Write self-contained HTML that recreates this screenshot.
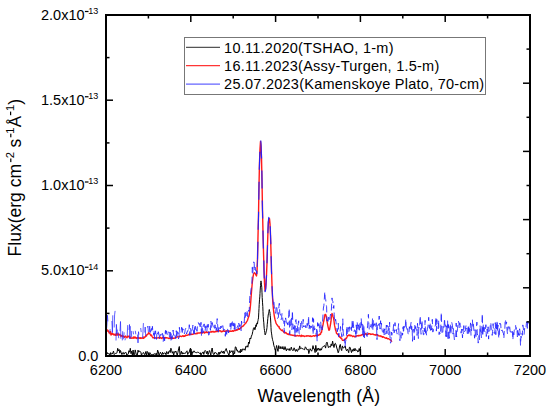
<!DOCTYPE html>
<html><head><meta charset="utf-8"><style>
html,body{margin:0;padding:0;background:#fff;width:550px;height:411px;overflow:hidden;}
svg{display:block;font-family:"Liberation Sans",sans-serif;}
</style></head><body>
<svg width="550" height="411" viewBox="0 0 550 411">
<rect width="550" height="411" fill="#fff"/>
<g fill="none" stroke-linejoin="round">
<polyline points="106.5,354.0 107.2,352.5 107.9,354.0 108.6,353.7 109.3,353.6 110.0,355.6 110.7,352.6 111.4,354.1 112.1,354.1 112.8,352.9 113.5,351.1 114.2,354.6 114.9,353.8 115.6,353.4 116.3,353.3 117.0,352.8 117.7,348.3 118.4,351.0 119.1,349.5 119.8,353.2 120.5,350.5 121.2,352.6 121.9,354.6 122.6,352.8 123.3,352.4 124.0,354.3 124.7,352.8 125.4,352.5 126.1,352.5 126.8,355.6 127.5,354.5 128.2,354.2 128.9,350.7 129.6,352.2 130.3,348.3 131.0,353.7 131.7,351.1 132.4,355.6 133.1,350.0 133.8,355.6 134.5,354.8 135.2,349.9 135.9,352.8 136.6,355.6 137.3,355.4 138.0,350.1 138.7,352.2 139.4,351.0 140.1,351.3 140.8,352.0 141.5,355.6 142.2,353.5 142.9,352.8 143.6,352.6 144.3,354.4 145.0,354.4 145.7,351.6 146.4,355.6 147.1,351.3 147.8,352.7 148.5,354.0 149.2,355.6 149.9,352.6 150.6,353.7 151.3,355.4 152.0,354.2 152.7,355.0 153.4,354.9 154.1,353.6 154.8,354.2 155.5,354.6 156.2,353.1 156.9,355.6 157.6,350.1 158.3,351.8 159.0,355.4 159.7,353.8 160.4,352.2 161.1,353.7 161.8,354.8 162.5,352.3 163.2,354.3 163.9,353.0 164.6,353.0 165.3,353.0 166.0,354.8 166.7,351.5 167.4,352.6 168.1,354.1 168.8,351.3 169.5,350.7 170.2,352.6 170.9,348.2 171.6,350.5 172.3,353.2 173.0,351.6 173.7,355.6 174.4,351.6 175.1,352.4 175.8,351.0 176.5,352.5 177.2,355.4 177.9,352.5 178.6,348.9 179.3,346.5 180.0,354.8 180.7,353.3 181.4,351.2 182.1,354.2 182.8,352.5 183.5,354.0 184.2,353.2 184.9,353.4 185.6,353.2 186.3,351.7 187.0,350.8 187.7,354.5 188.4,352.8 189.1,352.8 189.8,349.5 190.5,348.1 191.2,350.9 191.9,355.1 192.6,351.8 193.3,352.4 194.0,350.8 194.7,352.2 195.4,352.4 196.1,352.6 196.8,352.8 197.5,352.0 198.2,352.1 198.9,352.9 199.6,353.4 200.3,352.7 201.0,355.5 201.7,353.2 202.4,353.1 203.1,351.9 203.8,354.4 204.5,351.3 205.2,350.4 205.9,351.4 206.6,353.7 207.3,351.1 208.0,354.7 208.7,352.8 209.4,350.5 210.1,352.4 210.8,355.3 211.5,349.6 212.2,348.0 212.9,352.9 213.6,354.6 214.3,354.2 215.0,352.2 215.7,352.9 216.4,353.1 217.1,354.4 217.8,355.6 218.5,352.4 219.2,354.5 219.9,352.0 220.6,353.4 221.3,351.1 222.0,351.3 222.7,353.1 223.4,351.1 224.1,353.7 224.8,351.3 225.5,350.1 226.2,348.5 226.9,351.0 227.6,352.5 228.3,353.9 229.0,355.6 229.7,350.4 230.4,352.6 231.1,351.9 231.8,350.7 232.5,352.5 233.2,350.7 233.9,351.8 234.6,353.7 235.3,346.9 236.0,347.1 236.7,350.5 237.4,350.0 238.1,352.3 238.8,351.9 239.5,350.8 240.2,353.0 240.9,349.0 241.6,351.8 242.3,350.2 243.0,348.7 243.7,349.7 244.4,349.0 245.1,350.3 245.8,346.4 246.5,347.2 247.2,345.7 247.9,347.2 248.6,342.0 249.3,343.5 250.0,338.0 250.7,339.0 251.4,336.1 252.1,334.7 252.8,331.4 253.5,328.2 254.2,327.4 254.9,329.8 255.6,327.0 256.0,324.8 256.2,326.5 256.5,324.2 256.8,323.8 257.0,322.9 257.2,324.2 257.5,323.7 257.8,321.1 258.0,320.6 258.2,319.4 258.5,317.9 258.8,312.2 259.0,308.5 259.2,304.5 259.5,299.8 259.8,296.9 260.0,293.4 260.2,290.1 260.5,285.6 260.8,282.7 261.0,280.9 261.0,281.4 261.2,282.3 261.5,284.8 261.8,287.7 262.0,292.8 262.2,297.5 262.5,302.2 262.8,306.5 263.0,311.4 263.2,316.4 263.5,319.9 263.8,322.8 264.0,326.0 264.2,328.4 264.5,330.6 264.8,332.2 265.0,334.6 265.2,335.0 265.5,334.5 265.8,333.3 266.0,332.7 266.2,331.8 266.5,330.8 266.8,328.9 267.0,327.6 267.2,324.8 267.5,321.9 267.8,318.6 268.0,317.0 268.2,315.0 268.5,313.8 268.8,312.2 269.0,311.2 269.2,310.0 269.3,309.5 269.5,311.3 269.8,311.7 270.0,313.3 270.2,315.4 270.5,317.9 270.8,323.1 271.0,327.5 271.2,331.1 271.5,333.1 271.8,335.1 272.0,337.0 272.2,338.0 272.5,339.3 272.8,340.8 273.1,341.4 273.8,345.3 274.5,347.5 275.2,350.1 275.9,348.9 276.6,345.5 277.3,348.9 278.0,351.4 278.7,345.6 279.4,347.5 280.1,348.9 280.8,346.5 281.5,347.9 282.2,349.0 282.9,346.5 283.6,349.4 284.3,349.6 285.0,346.6 285.7,349.0 286.4,350.9 287.1,348.6 287.8,349.7 288.5,350.1 289.2,348.5 289.9,350.7 290.6,349.6 291.3,347.1 292.0,349.9 292.7,350.5 293.4,350.4 294.1,347.8 294.8,349.8 295.5,351.4 296.2,349.3 296.9,351.1 297.6,351.3 298.3,348.8 299.0,349.7 299.7,345.9 300.4,348.7 301.1,348.5 301.8,347.9 302.5,348.9 303.2,348.8 303.9,349.6 304.6,349.7 305.3,346.8 306.0,347.7 306.7,349.5 307.4,349.7 308.1,349.0 308.8,353.6 309.5,350.8 310.2,348.7 310.9,350.1 311.6,351.2 312.3,349.4 313.0,345.6 313.7,348.9 314.4,348.8 315.1,352.6 315.8,345.4 316.5,351.5 317.2,348.4 317.9,350.3 318.6,348.1 319.3,348.9 320.0,350.6 320.7,348.7 321.4,350.1 322.1,347.7 322.8,346.7 323.5,346.6 324.2,345.6 324.9,345.9 325.6,348.1 326.3,343.3 327.0,342.1 327.7,344.8 328.4,347.6 329.1,346.4 329.8,347.0 330.5,347.1 331.2,343.9 331.9,345.8 332.6,341.1 333.3,345.0 334.0,347.5 334.7,343.9 335.4,343.3 336.1,345.0 336.8,348.0 337.5,350.0 338.2,352.8 338.9,350.9 339.6,345.8 340.3,344.4 341.0,348.9 341.7,350.6 342.4,345.9 343.1,347.9 343.8,347.9 344.5,347.2 345.2,345.9 345.9,349.3 346.6,350.9 347.3,349.2 348.0,350.5 348.7,352.7 349.4,347.3 350.1,347.3 350.8,350.2 351.5,352.6 352.2,349.6 352.9,351.3 353.6,348.8 354.3,351.0 355.0,348.3 355.7,350.6 356.4,350.2 357.1,350.2 357.8,352.0 358.5,351.5 359.2,348.5 359.9,351.2 360.6,346.6" stroke="#000" stroke-width="1.0"/>
<polyline points="106.0,329.0 106.5,331.0 107.0,331.3 107.5,330.0 108.0,330.7 108.5,331.0 109.0,332.7 109.5,332.6 110.0,333.8 110.5,331.4 111.0,335.0 111.5,333.5 112.0,334.4 112.5,333.8 113.0,333.7 113.5,334.6 114.0,335.1 114.5,334.3 115.0,334.4 115.5,335.3 116.0,334.0 116.5,333.5 117.0,335.3 117.5,334.4 118.0,333.5 118.5,334.5 119.0,334.9 119.5,334.4 120.0,334.3 120.5,335.6 121.0,336.4 121.5,335.6 122.0,335.4 122.5,336.4 123.0,336.7 123.5,336.1 124.0,336.8 124.5,337.3 125.0,336.5 125.5,336.1 126.0,337.1 126.5,337.1 127.0,337.8 127.5,336.2 128.0,336.7 128.5,336.6 129.0,336.1 129.5,337.4 130.0,337.8 130.5,337.0 131.0,338.4 131.5,338.1 132.0,338.0 132.5,337.9 133.0,338.3 133.5,336.9 134.0,338.1 134.5,338.1 135.0,336.8 135.5,338.1 136.0,337.7 136.5,338.4 137.0,337.7 137.5,337.9 138.0,338.2 138.5,337.5 139.0,338.3 139.5,337.9 140.0,338.3 140.5,337.7 141.0,338.5 141.5,338.2 142.0,337.8 142.5,338.1 143.0,338.3 143.5,338.4 144.0,336.8 144.5,337.7 145.0,337.1 145.5,336.4 146.0,335.6 146.5,336.0 147.0,334.4 147.5,334.5 148.0,334.2 148.5,332.7 149.0,333.2 149.5,333.2 150.0,334.1 150.5,335.0 151.0,335.7 151.5,335.1 152.0,336.2 152.5,337.2 153.0,337.9 153.5,337.6 154.0,337.4 154.5,337.9 155.0,337.9 155.5,337.9 156.0,337.7 156.5,338.1 157.0,338.1 157.5,337.9 158.0,337.9 158.5,337.5 159.0,337.7 159.5,338.3 160.0,337.8 160.5,337.3 161.0,338.3 161.5,338.0 162.0,338.5 162.5,337.7 163.0,337.6 163.5,337.2 164.0,338.2 164.5,338.6 165.0,337.4 165.5,337.6 166.0,338.0 166.5,337.6 167.0,337.9 167.5,337.9 168.0,338.1 168.5,338.5 169.0,338.2 169.5,338.5 170.0,338.1 170.5,338.3 171.0,337.4 171.5,337.6 172.0,338.4 172.5,337.9 173.0,338.2 173.5,338.1 174.0,338.3 174.5,338.1 175.0,338.0 175.5,337.6 176.0,337.3 176.5,337.1 177.0,337.1 177.5,336.8 178.0,336.9 178.5,336.9 179.0,336.9 179.5,336.6 180.0,335.9 180.5,336.4 181.0,336.4 181.5,336.6 182.0,336.3 182.5,335.8 183.0,335.6 183.5,336.5 184.0,335.9 184.5,336.2 185.0,336.2 185.5,335.1 186.0,335.5 186.5,335.4 187.0,335.3 187.5,335.2 188.0,335.0 188.5,334.9 189.0,334.3 189.5,334.6 190.0,334.3 190.5,334.5 191.0,334.2 191.5,334.5 192.0,334.5 192.5,334.2 193.0,334.2 193.5,334.0 194.0,333.7 194.5,333.7 195.0,333.5 195.5,333.8 196.0,333.6 196.5,333.7 197.0,332.9 197.5,333.6 198.0,333.0 198.5,332.9 199.0,333.1 199.5,332.9 200.0,333.1 200.5,332.7 201.0,332.5 201.5,332.5 202.0,333.2 202.5,332.7 203.0,332.3 203.5,332.6 204.0,332.0 204.5,333.1 205.0,331.9 205.5,332.6 206.0,332.5 206.5,331.8 207.0,332.4 207.5,332.6 208.0,332.3 208.5,332.2 209.0,332.4 209.5,332.1 210.0,332.1 210.5,331.9 211.0,332.1 211.5,331.5 212.0,332.1 212.5,331.6 213.0,331.3 213.5,331.8 214.0,332.2 214.5,331.9 215.0,331.4 215.5,331.8 216.0,331.4 216.5,331.4 217.0,331.5 217.5,330.6 218.0,331.5 218.5,331.0 219.0,331.1 219.5,330.8 220.0,330.8 220.5,330.9 221.0,331.6 221.5,331.8 222.0,331.2 222.5,331.6 223.0,331.1 223.5,330.5 224.0,331.2 224.5,331.3 225.0,331.0 225.5,331.3 226.0,331.3 226.5,330.8 227.0,330.6 227.5,331.0 228.0,331.0 228.5,330.9 229.0,331.4 229.5,331.6 230.0,330.9 230.5,331.2 231.0,331.3 231.5,331.1 232.0,331.2 232.5,330.6 233.0,330.9 233.5,331.3 234.0,330.8 234.5,330.2 235.0,330.5 235.5,330.6 236.0,330.2 236.5,329.7 237.0,330.3 237.5,329.2 238.0,329.6 238.5,329.2 239.0,328.6 239.5,329.2 240.0,328.6 240.5,327.8 241.0,328.1 241.5,327.3 242.0,326.4 242.5,326.3 243.0,326.2 243.5,325.8 244.0,325.0 244.5,324.4 245.0,324.0 245.5,323.1 246.0,323.0 246.5,321.9 247.0,321.2 247.5,320.3 248.0,318.6 248.5,317.3 249.0,316.1 249.5,313.2 250.0,309.9 250.5,305.0 251.0,298.2 251.5,291.8 252.0,285.9 252.5,280.8 253.0,277.0 253.5,274.3 254.0,273.2 254.5,272.7 255.0,273.2 255.5,274.0 256.0,275.2 256.5,276.0 257.0,271.4 257.5,258.9 258.0,236.3 258.5,215.8 259.0,185.1 259.5,163.1 260.0,148.8 260.5,141.5 261.0,146.1 261.5,157.3 262.0,181.2 262.5,209.9 263.0,232.2 263.5,251.8 264.0,269.4 264.5,282.9 265.0,290.6 265.5,289.0 266.0,284.7 266.5,275.0 267.0,262.9 267.5,245.1 268.0,230.3 268.5,222.0 269.0,218.7 269.5,218.6 270.0,223.7 270.5,235.0 271.0,251.9 271.5,270.0 272.0,285.3 272.5,296.9 273.0,304.7 273.5,309.9 274.0,313.9 274.5,317.1 275.0,319.4 275.5,321.2 276.0,323.2 276.5,324.0 277.0,324.8 277.5,325.3 278.0,326.1 278.5,326.7 279.0,326.5 279.5,328.5 280.0,328.9 280.5,329.1 281.0,330.0 281.5,330.3 282.0,330.6 282.5,330.0 283.0,331.1 283.5,331.7 284.0,332.5 284.5,332.9 285.0,333.0 285.5,332.4 286.0,332.4 286.5,333.6 287.0,333.7 287.5,334.2 288.0,334.0 288.5,334.4 289.0,333.9 289.5,334.7 290.0,334.5 290.5,334.9 291.0,335.1 291.5,334.9 292.0,335.2 292.5,335.2 293.0,335.5 293.5,335.5 294.0,335.2 294.5,335.3 295.0,336.1 295.5,335.6 296.0,336.0 296.5,335.8 297.0,335.5 297.5,335.5 298.0,335.9 298.5,335.9 299.0,336.1 299.5,335.4 300.0,335.7 300.5,335.9 301.0,336.5 301.5,335.1 302.0,336.1 302.5,335.8 303.0,336.1 303.5,335.8 304.0,336.1 304.5,336.5 305.0,336.1 305.5,336.1 306.0,336.1 306.5,335.7 307.0,336.2 307.5,335.9 308.0,335.7 308.5,336.0 309.0,335.9 309.5,336.3 310.0,336.0 310.5,335.8 311.0,336.5 311.5,336.3 312.0,336.4 312.5,336.2 313.0,335.9 313.5,335.8 314.0,335.8 314.5,336.2 315.0,335.9 315.5,335.3 316.0,335.7 316.5,335.2 317.0,335.7 317.5,335.1 318.0,335.1 318.5,335.4 319.0,335.1 319.5,334.2 320.0,334.5 320.5,334.4 321.0,332.5 321.5,332.4 322.0,329.5 322.5,327.2 323.0,324.8 323.5,322.0 324.0,320.0 324.5,316.8 325.0,314.4 325.5,314.4 326.0,315.4 326.5,317.9 327.0,321.3 327.5,323.8 328.0,326.6 328.5,328.7 329.0,330.2 329.5,330.0 330.0,327.2 330.5,324.3 331.0,321.2 331.5,316.3 332.0,313.5 332.5,314.4 333.0,316.4 333.5,318.1 334.0,321.0 334.5,325.2 335.0,327.3 335.5,329.9 336.0,331.0 336.5,333.3 337.0,333.6 337.5,334.2 338.0,334.7 338.5,334.5 339.0,336.2 339.5,337.1 340.0,336.8 340.5,337.7 341.0,338.3 341.5,338.0 342.0,339.5 342.5,340.3 343.0,340.3 343.5,340.4 344.0,340.5 344.5,339.4 345.0,339.5 345.5,339.3 346.0,338.1 346.5,338.3 347.0,337.1 347.5,335.8 348.0,335.9 348.5,335.1 349.0,335.4 349.5,334.9 350.0,335.8 350.5,335.2 351.0,335.7 351.5,335.5 352.0,335.8 352.5,336.5 353.0,336.3 353.5,336.2 354.0,336.0 354.5,336.9 355.0,336.8 355.5,336.4 356.0,336.5 356.5,335.9 357.0,335.8 357.5,335.7 358.0,336.0 358.5,335.8 359.0,335.3 359.5,335.7 360.0,335.6 360.5,335.3 361.0,335.5 361.5,334.9 362.0,334.8 362.5,334.9 363.0,334.6 363.5,334.8 364.0,334.0 364.5,334.9 365.0,334.0 365.5,334.1 366.0,333.6 366.5,334.3 367.0,334.5 367.5,334.4 368.0,334.3 368.5,333.5 369.0,333.7 369.5,333.9 370.0,333.7 370.5,334.5 371.0,334.2 371.5,334.2 372.0,334.4 372.5,334.0 373.0,334.1 373.5,334.2 374.0,334.7 374.5,334.8 375.0,334.9 375.5,335.2 376.0,334.4 376.5,334.8 377.0,335.2 377.5,334.7 378.0,335.1 378.5,335.8 379.0,335.9 379.5,336.0 380.0,335.8 380.5,335.9 381.0,336.5 381.5,336.2 382.0,336.6 382.5,337.2 383.0,336.8 383.5,336.9 384.0,337.3 384.5,337.7 385.0,337.9 385.5,338.0 386.0,338.3 386.5,337.8 387.0,338.2 387.5,338.8 388.0,338.6 388.5,338.7 389.0,339.0 389.5,339.3 390.0,339.8 390.5,339.8 391.0,340.4 391.5,341.2 392.0,340.7" stroke="#ff1a1a" stroke-width="1.4"/>
<path d="M106.5,329.8L107.0,323.9L107.4,315.2L107.9,321.4M109.7,332.7L110.1,329.1M111.9,321.0L112.4,332.7L112.8,315.3M114.2,327.5L114.6,314.9L115.1,310.9M116.0,340.5L116.4,324.4L116.9,333.6L117.3,329.6M118.2,332.3L118.7,338.2M120.0,331.2L120.5,321.5L120.9,338.7M122.3,340.4L122.7,331.2M123.6,339.2L124.1,332.3M125.0,340.3L125.4,338.2M127.2,336.2L127.7,325.1M129.0,329.9L129.5,324.5L129.9,339.0L130.4,326.2M131.3,330.9L131.7,337.2M133.1,331.2L133.5,334.3M135.3,330.8L135.8,334.3M137.6,334.6L138.0,342.9L138.5,331.7L138.9,334.6M140.7,328.0L141.2,332.1M142.5,338.0L143.0,331.9L143.4,323.1M144.8,332.5L145.2,327.0L145.7,336.0M147.5,327.5L147.9,326.0L148.4,332.1M149.3,332.0L149.7,326.1L150.2,332.5" stroke="#2a2aff" stroke-width="0.75"/>
<polyline points="150.2,332.5 150.6,330.7 151.1,329.5 151.5,328.5 152.0,332.5 152.4,326.3 152.9,331.9 153.3,331.6 153.8,335.4 154.2,329.8 154.7,339.1 155.1,333.1 155.6,330.8 156.0,338.9 156.5,339.3 156.9,333.6 157.4,331.4 157.8,333.9 158.3,331.7 158.7,333.0 159.2,339.0 159.6,335.4 160.1,334.7 160.5,335.5 161.0,334.1 161.4,336.7 161.9,336.8 162.3,333.3 162.8,334.8 163.2,341.9 163.7,335.8 164.1,334.0 164.6,340.8 165.0,334.1 165.5,330.4 165.9,336.0 166.4,330.8 166.8,332.1 167.3,334.8 167.7,333.2 168.2,331.3 168.6,332.3 169.1,332.0 169.5,337.5 170.0,332.1 170.4,332.5 170.9,341.1 171.3,333.0 171.8,339.4 172.2,338.7 172.7,333.8 173.1,330.0 173.6,335.7 174.0,336.1 174.5,337.2 174.9,334.8 175.4,338.0 175.8,338.6 176.3,330.7 176.7,338.3 177.2,334.0 177.6,331.7 178.1,332.7 178.5,338.9 179.0,336.0 179.4,327.3 179.9,333.0 180.3,331.8 180.8,331.1 181.2,330.4 181.7,327.2 182.1,334.3 182.6,328.5 183.0,330.1 183.5,329.7 183.9,329.1 184.4,333.7 184.8,332.4 185.3,329.0 185.7,328.4 186.2,329.7 186.6,334.1 187.1,331.5 187.5,331.8 188.0,330.1 188.4,329.7 188.9,331.4 189.3,324.7 189.8,335.4 190.2,328.1 190.7,328.7 191.1,334.9 191.6,330.9 192.0,330.2 192.5,328.3 192.9,325.1 193.4,330.3 193.8,333.6 194.3,326.9 194.7,334.0 195.2,326.2 195.6,327.2 196.1,331.3 196.5,329.2 197.0,331.3 197.4,326.6 197.9,325.3 198.3,322.4 198.8,324.0 199.2,324.6 199.7,323.5 200.1,328.8 200.6,326.4 201.0,322.3 201.5,336.2 201.9,326.0 202.4,325.0 202.8,332.9 203.3,331.9 203.7,324.5 204.2,323.9 204.6,325.1 205.1,331.3 205.5,327.0 206.0,325.9 206.4,328.2 206.9,331.7 207.3,323.4 207.8,327.0 208.2,324.2 208.7,335.2 209.1,334.3 209.6,331.7 210.0,328.2 210.5,330.3 210.9,321.0 211.4,328.0 211.8,322.8 212.3,322.6 212.7,325.0 213.2,326.2 213.6,329.3 214.1,329.8 214.5,328.6 215.0,324.8 215.4,330.0 215.9,327.2 216.3,330.7 216.8,324.2 217.2,318.6 217.7,325.9 218.1,333.8 218.6,328.8 219.0,327.4 219.5,330.9 219.9,329.2 220.4,329.0 220.8,326.0 221.3,327.5 221.7,327.6 222.2,324.9 222.6,323.6 223.1,327.7 223.5,330.3 224.0,329.5 224.4,329.7 224.9,329.7 225.3,336.3 225.8,329.2 226.2,331.6 226.7,334.4 227.1,328.1 227.6,329.0 228.0,331.3 228.5,333.0 228.9,328.7 229.4,328.6 229.8,327.7 230.3,323.3 230.7,330.2 231.2,325.7 231.6,320.8 232.1,325.7 232.5,320.5 233.0,322.5 233.4,326.2 233.9,322.9 234.3,329.4 234.8,321.7 235.2,327.3 235.7,328.4 236.1,331.0 236.6,329.5 237.0,327.1 237.5,326.6 237.9,325.6 238.4,329.1 238.8,323.2 239.3,326.7 239.7,324.6 240.2,325.5 240.6,323.5 241.1,330.7 241.5,321.1 242.0,323.7 242.4,323.3 242.9,323.5 243.3,322.7 243.8,321.6 244.2,322.9 244.7,312.7 245.1,317.5 245.6,311.7 246.0,315.9 246.5,310.2 246.9,310.3 247.4,312.9 247.8,316.8 248.3,313.0 248.7,310.2 249.2,311.4 249.6,300.4 250.1,293.3 250.5,294.6 251.0,289.2 251.4,287.8 251.9,285.0 252.3,267.3 252.8,273.3 253.2,265.5 253.7,261.9 254.1,262.1 254.6,270.8 255.0,267.1 255.5,268.4 255.9,272.9 256.4,270.5 256.8,274.1 257.0,270.5 257.2,267.1 257.5,259.7" stroke="#2020ff" stroke-width="0.85" stroke-dasharray="7 4"/>
<polyline points="257.5,259.7 257.8,246.1 258.0,237.9 258.2,226.8 258.5,216.8 258.8,198.3 259.0,185.4 259.2,172.1 259.5,162.9 259.8,154.7 260.0,146.0 260.2,142.1 260.5,141.3 260.5,141.8 260.8,140.7 261.0,143.4 261.2,149.8 261.5,156.7 261.8,165.0 262.0,180.3 262.2,198.4 262.5,211.1 262.8,222.4 263.0,231.2 263.2,242.4 263.5,251.6 263.8,259.0 264.0,270.4 264.2,276.9 264.5,282.4 264.8,290.2 265.0,291.8 265.2,291.5 265.5,290.7 265.8,288.4 266.0,283.4 266.2,279.8 266.5,276.1 266.8,268.4 267.0,262.8 267.2,255.1 267.5,245.9 267.8,236.2 268.0,228.9 268.2,222.0 268.5,219.9 268.5,219.4 268.8,217.2 269.0,218.4 269.2,217.5 269.3,216.1 269.5,219.6 269.8,220.1 270.0,224.2 270.2,226.0 270.5,234.8 270.8,242.0 271.0,250.6 271.2,258.9 271.5,272.4 271.8,277.7 272.1,288.0 272.6,297.8" stroke="#2020ff" stroke-width="1.1" stroke-dasharray="18 12"/>
<polyline points="272.6,297.8 273.0,300.5 273.5,305.0 273.9,301.6 274.4,308.2 274.8,308.3 275.3,313.2 275.7,313.2 276.2,306.5 276.6,305.4 277.1,309.9 277.5,318.6 278.0,317.4 278.4,317.4 278.9,306.4 279.3,303.3 279.8,313.0 280.2,314.7 280.7,314.5 281.1,319.8 281.6,317.7 282.0,313.4 282.5,315.4 282.9,320.4 283.4,321.1 283.8,321.0 284.3,332.6 284.7,320.7 285.2,322.7 285.6,317.9 286.1,320.7 286.5,325.1 287.0,325.6 287.4,322.8 287.9,325.1 288.3,322.7 288.8,314.3 289.2,308.2 289.7,334.4 290.1,327.1 290.6,323.2 291.0,316.7 291.5,317.6 291.9,329.7 292.4,310.6 292.8,322.8 293.3,329.0 293.7,325.3 294.2,329.7 294.6,325.4 295.1,336.7 295.5,320.8 296.0,319.5 296.4,327.2 296.9,332.4 297.3,325.6 297.8,330.9 298.2,323.8 298.7,320.8 299.1,333.5 299.6,333.9 300.0,333.6 300.5,324.4 300.9,320.6 301.4,320.3 301.8,324.4 302.3,328.0 302.7,328.0 303.2,319.3 303.6,327.0 304.1,326.1 304.5,326.2 305.0,326.3 305.4,325.5 305.9,329.3 306.3,326.9 306.8,327.5 307.2,323.3 307.7,327.6 308.1,325.3 308.6,315.9 309.0,328.5 309.5,324.9 309.9,330.5 310.4,326.1 310.8,326.3 311.3,327.7 311.7,325.9 312.2,324.4 312.6,317.7 313.1,334.6 313.5,318.7 314.0,324.8 314.4,330.1 314.9,328.5 315.3,330.1 315.8,331.2 316.2,334.2 316.7,329.2 317.1,341.3 317.6,322.6 318.0,327.9 318.5,325.0 318.9,323.6 319.4,327.3 319.8,332.1 320.3,321.8 320.7,321.6 321.2,328.1 321.6,325.5 322.1,330.0 322.5,322.5 323.0,314.8 323.4,308.0 323.9,305.3 324.3,299.4 324.8,291.6 325.2,298.2 325.7,299.6 326.1,303.5 326.6,306.7 327.0,320.8 327.5,319.8 327.9,323.4 328.4,318.1 328.8,317.1 329.3,320.7 329.7,321.5 330.2,316.3 330.6,314.2 331.1,315.1 331.5,307.0 332.0,297.9 332.4,301.0 332.9,301.5 333.3,308.2 333.8,305.5 334.2,314.3 334.7,322.2 335.1,321.5 335.6,319.2 336.0,322.2 336.5,326.9 336.9,329.4 337.4,331.7 337.8,328.2 338.3,323.3 338.7,336.7 339.2,331.7 339.6,332.5 340.1,332.7 340.5,326.5 341.0,330.6 341.4,333.7 341.9,336.9 342.3,333.1 342.8,318.8 343.2,332.9 343.7,335.7 344.1,340.6 344.6,338.8 345.0,347.0 345.5,341.8 345.9,340.3 346.4,338.0 346.8,325.9 347.3,335.2 347.7,333.2 348.2,327.3 348.6,332.4 349.1,331.2 349.5,326.8 350.0,328.7 350.4,327.8 350.9,330.3 351.3,326.9 351.8,331.5 352.2,319.7 352.7,327.3 353.1,321.1 353.6,326.7 354.0,332.0 354.5,329.8 354.9,330.1 355.4,330.7 355.8,337.8 356.3,324.8 356.7,333.9 357.2,322.5 357.6,326.6 358.1,329.8 358.5,324.8 359.0,329.7 359.4,332.2 359.9,322.9 360.3,327.7 360.8,326.1 361.2,318.2 361.7,327.1 362.1,323.9 362.6,334.4 363.0,324.3 363.5,336.8 363.9,326.6 364.4,337.9 364.8,331.7 365.3,331.0 365.7,333.1 366.2,333.4 366.6,335.5 367.1,336.5 367.5,325.8 368.0,321.2 368.4,314.3 368.9,324.6 369.3,330.2 369.8,328.6 370.2,328.0 370.7,325.9 371.1,324.4 371.6,325.6 372.0,328.9 372.5,318.6 372.9,330.5 373.4,320.2 373.8,326.1 374.3,324.1 374.7,324.9 375.2,322.2 375.6,321.5 376.1,326.7 376.5,322.8 377.0,339.6 377.4,326.3 377.9,325.1 378.3,325.3 378.8,322.1 379.2,316.0 379.7,326.2 380.1,329.1 380.6,320.7 381.0,328.6 381.5,323.2 381.9,328.9 382.4,331.5 382.8,332.0 383.3,332.6 383.7,327.3 384.2,334.9 384.6,328.9 385.1,332.6 385.5,334.2 386.0,329.6 386.4,325.0 386.9,333.8 387.3,325.3 387.8,326.9 388.2,326.4 388.7,334.9 389.1,330.9 389.6,322.2 390.0,337.2 390.5,343.2 390.9,342.2 391.4,332.1 391.8,335.3 392.3,332.1 392.7,333.2 393.2,329.6 393.6,324.4 394.1,332.8 394.5,331.8 395.0,322.6 395.4,327.6 395.9,330.7 396.3,329.4 396.8,332.6 397.2,334.1 397.7,332.5 398.1,329.4 398.6,323.6 399.0,333.8 399.5,337.7 399.9,340.7 400.4,331.4 400.8,331.7 401.3,339.0 401.7,338.6 402.2,332.9 402.6,335.0 403.1,326.8 403.5,333.3 404.0,326.0 404.4,329.1 404.9,328.9 405.3,326.7 405.8,318.7 406.2,325.3 406.7,331.2 407.1,329.4 407.6,328.6 408.0,333.3 408.5,334.3 408.9,335.1 409.4,326.7 409.8,330.6 410.3,328.1 410.7,325.0 411.2,321.9 411.6,329.6 412.1,325.7 412.5,341.3 413.0,330.2 413.4,330.1 413.9,329.2 414.3,340.0 414.8,325.4 415.2,329.4 415.7,326.4 416.1,329.4 416.6,329.7 417.0,335.4 417.5,323.3 417.9,330.3 418.4,338.5 418.8,327.0 419.3,328.3 419.7,324.6 420.2,315.7 420.6,328.4 421.1,334.3 421.5,326.3 422.0,320.0 422.4,331.0 422.9,329.9 423.3,334.6 423.8,334.8 424.2,328.1 424.7,331.7 425.1,320.3 425.6,335.1 426.0,330.7 426.5,335.0 426.9,335.3 427.4,327.8 427.8,327.8 428.3,323.7 428.7,317.3 429.2,326.8 429.6,328.5 430.1,322.4 430.5,332.3 431.0,328.9 431.4,330.1 431.9,324.4 432.3,319.3 432.8,332.1 433.2,331.0 433.7,327.4 434.1,326.3 434.6,326.6 435.0,326.5 435.5,324.9 435.9,316.9 436.4,331.1 436.8,319.4 437.3,325.6 437.7,325.8 438.2,328.8 438.6,319.9 439.1,334.6 439.5,332.3 440.0,332.6 440.4,334.7 440.9,323.9 441.3,312.3 441.8,330.0 442.2,334.5 442.7,334.0 443.1,326.4 443.6,328.1 444.0,329.4 444.5,318.3 444.9,324.8 445.4,324.8 445.8,336.5 446.3,325.8 446.7,336.8 447.2,329.8 447.6,320.5 448.1,340.7 448.5,324.6 449.0,332.6 449.4,338.3 449.9,326.6 450.3,323.5 450.8,334.5 451.2,328.8 451.7,322.3 452.1,323.8 452.6,327.0 453.0,334.1 453.5,328.6 453.9,334.2 454.4,339.9 454.8,338.1 455.3,338.6 455.7,337.7 456.2,323.0 456.6,337.0 457.1,331.8 457.5,328.7 458.0,324.0 458.4,321.1 458.9,323.1 459.3,328.5 459.8,322.8 460.2,325.3 460.7,326.6 461.1,333.2 461.6,329.1 462.0,330.0 462.5,337.9 462.9,329.0 463.4,333.9 463.8,325.6 464.3,332.3 464.7,331.2 465.2,331.0 465.6,328.0 466.1,324.9 466.5,328.9 467.0,328.2 467.4,335.6 467.9,335.5 468.3,324.7 468.8,334.3 469.2,328.2 469.7,332.2 470.1,328.1 470.6,322.9 471.0,335.3 471.5,331.7 471.9,323.2 472.4,319.8 472.8,326.3 473.3,323.0 473.7,327.9 474.2,333.3 474.6,338.2 475.1,329.6 475.5,338.3 476.0,336.5 476.4,328.1 476.9,322.1 477.3,335.1 477.8,333.9 478.2,343.1 478.7,339.4 479.1,335.4 479.6,339.9 480.0,325.1 480.5,331.5 480.9,329.0 481.4,337.7 481.8,332.4 482.3,313.6 482.7,336.4 483.2,324.1 483.6,332.5 484.1,327.2 484.5,330.5 485.0,332.4 485.4,330.3 485.9,324.7 486.3,336.5 486.8,331.4 487.2,329.0 487.7,333.5 488.1,326.8 488.6,339.1 489.0,330.7 489.5,330.9 489.9,330.6 490.4,323.6 490.8,322.3 491.3,329.7 491.7,330.4 492.2,335.4 492.6,331.3 493.1,323.6 493.5,332.0 494.0,333.3 494.4,333.6 494.9,330.9 495.3,322.6 495.8,334.7 496.2,324.3 496.7,331.1 497.1,320.3 497.6,332.2 498.0,325.1 498.5,334.8 498.9,338.4 499.4,334.9 499.8,323.0 500.3,324.0 500.7,324.0 501.2,331.5 501.6,330.4 502.1,329.9 502.5,331.2 503.0,332.9 503.4,333.2 503.9,338.6 504.3,329.1 504.8,329.9 505.2,319.1 505.7,321.0 506.1,324.3 506.6,322.1 507.0,329.7 507.5,334.2 507.9,326.8 508.4,327.0 508.8,326.7 509.3,329.8 509.7,326.7 510.2,331.9 510.6,331.7 511.1,332.0 511.5,334.4 512.0,331.1 512.4,331.6 512.9,340.0 513.3,330.7 513.8,334.9 514.2,330.9 514.7,327.6 515.1,327.7 515.6,325.5 516.0,329.6 516.5,327.0 516.9,328.0 517.4,337.0 517.8,330.3 518.3,337.2 518.7,332.7 519.2,335.5 519.6,328.8 520.1,332.6 520.5,345.5 521.0,336.1 521.4,337.5 521.9,333.2 522.3,335.3 522.8,324.9 523.2,326.4 523.7,332.7 524.1,334.4 524.6,328.4 525.0,329.7 525.5,328.3 525.9,328.5 526.4,323.4 526.8,321.8 527.3,328.4 527.7,319.8 528.2,323.7" stroke="#2020ff" stroke-width="0.85" stroke-dasharray="7 4"/>
</g>
<g stroke="#000" stroke-width="1.5">
<line x1="148.4" y1="356" x2="148.4" y2="352.5"/><line x1="148.4" y1="15" x2="148.4" y2="18.5"/><line x1="190.8" y1="356" x2="190.8" y2="349"/><line x1="190.8" y1="15" x2="190.8" y2="22"/><line x1="233.2" y1="356" x2="233.2" y2="352.5"/><line x1="233.2" y1="15" x2="233.2" y2="18.5"/><line x1="275.6" y1="356" x2="275.6" y2="349"/><line x1="275.6" y1="15" x2="275.6" y2="22"/><line x1="318.0" y1="356" x2="318.0" y2="352.5"/><line x1="318.0" y1="15" x2="318.0" y2="18.5"/><line x1="360.4" y1="356" x2="360.4" y2="349"/><line x1="360.4" y1="15" x2="360.4" y2="22"/><line x1="402.8" y1="356" x2="402.8" y2="352.5"/><line x1="402.8" y1="15" x2="402.8" y2="18.5"/><line x1="445.2" y1="356" x2="445.2" y2="349"/><line x1="445.2" y1="15" x2="445.2" y2="22"/><line x1="487.6" y1="356" x2="487.6" y2="352.5"/><line x1="487.6" y1="15" x2="487.6" y2="18.5"/><line x1="106" y1="313.4" x2="109.5" y2="313.4"/><line x1="106" y1="270.8" x2="113" y2="270.8"/><line x1="106" y1="228.1" x2="109.5" y2="228.1"/><line x1="106" y1="185.5" x2="113" y2="185.5"/><line x1="106" y1="142.9" x2="109.5" y2="142.9"/><line x1="106" y1="100.2" x2="113" y2="100.2"/><line x1="106" y1="57.6" x2="109.5" y2="57.6"/><line x1="530" y1="321.9" x2="526.5" y2="321.9"/><line x1="530" y1="287.8" x2="523" y2="287.8"/><line x1="530" y1="253.7" x2="526.5" y2="253.7"/><line x1="530" y1="219.6" x2="523" y2="219.6"/><line x1="530" y1="185.5" x2="526.5" y2="185.5"/><line x1="530" y1="151.4" x2="523" y2="151.4"/><line x1="530" y1="117.3" x2="526.5" y2="117.3"/><line x1="530" y1="83.2" x2="523" y2="83.2"/><line x1="530" y1="49.1" x2="526.5" y2="49.1"/>
</g>
<rect x="106" y="15" width="424" height="341" fill="none" stroke="#000" stroke-width="2"/>
<g fill="#000">
<text x="41" y="19.60" font-size="14.5">2.0x10</text><rect x="84.9" y="10.90" width="3.6" height="1.2"/><text x="88.2" y="13.85" font-size="9">13</text><text x="41" y="104.85" font-size="14.5">1.5x10</text><rect x="84.9" y="96.15" width="3.6" height="1.2"/><text x="88.2" y="99.10" font-size="9">13</text><text x="41" y="190.10" font-size="14.5">1.0x10</text><rect x="84.9" y="181.40" width="3.6" height="1.2"/><text x="88.2" y="184.35" font-size="9">13</text><text x="41" y="275.35" font-size="14.5">5.0x10</text><rect x="84.9" y="266.65" width="3.6" height="1.2"/><text x="88.2" y="269.60" font-size="9">14</text><text x="98.4" y="360.6" text-anchor="end" font-size="14.5">0.0</text>
<text x="106.0" y="374.9" text-anchor="middle" font-size="14.5">6200</text><text x="190.8" y="374.9" text-anchor="middle" font-size="14.5">6400</text><text x="275.6" y="374.9" text-anchor="middle" font-size="14.5">6600</text><text x="360.4" y="374.9" text-anchor="middle" font-size="14.5">6800</text><text x="445.2" y="374.9" text-anchor="middle" font-size="14.5">7000</text><text x="530.0" y="374.9" text-anchor="middle" font-size="14.5">7200</text>
<text x="257.5" y="401.6" font-size="17.5" letter-spacing="0.2">Wavelength (Å)</text>
<text transform="translate(20.6,256.4) rotate(-90)" font-size="17.5">Flux(erg cm</text><rect x="10.20" y="158.50" width="1.2" height="3.6"/><text transform="translate(13.60,155.10) rotate(-90)" font-size="11.2" text-anchor="middle">2</text><text transform="translate(20.60,143.20) rotate(-90)" font-size="17.5" text-anchor="middle">s</text><rect x="10.20" y="133.70" width="1.2" height="3.6"/><text transform="translate(13.60,130.60) rotate(-90)" font-size="11.2" text-anchor="middle">1</text><text transform="translate(20.60,121.50) rotate(-90)" font-size="17.0" text-anchor="middle">Å</text><rect x="10.00" y="111.60" width="1.2" height="3.6"/><text transform="translate(13.60,107.80) rotate(-90)" font-size="11.2" text-anchor="middle">1</text><text transform="translate(20.60,101.80) rotate(-90)" font-size="17.5" text-anchor="middle">)</text>
</g>
<rect x="184.5" y="37.5" width="301" height="57" fill="#fff" stroke="#777" stroke-width="1"/>
<line x1="186" y1="47.4" x2="220" y2="47.4" stroke="#555" stroke-width="1.1"/>
<line x1="186" y1="65.7" x2="220" y2="65.7" stroke="#ff3535" stroke-width="1.3"/>
<line x1="186" y1="84.2" x2="220" y2="84.2" stroke="#6464ff" stroke-width="1.3"/>
<g font-size="14.5" fill="#000" letter-spacing="0.25">
<text x="224.1" y="52.6">10.11.2020(TSHAO, 1-m)</text>
<text x="224.1" y="70.9">16.11.2023(Assy-Turgen, 1.5-m)</text>
<text x="224.1" y="89.1">25.07.2023(Kamenskoye Plato, 70-cm)</text>
</g>
</svg>
</body></html>
